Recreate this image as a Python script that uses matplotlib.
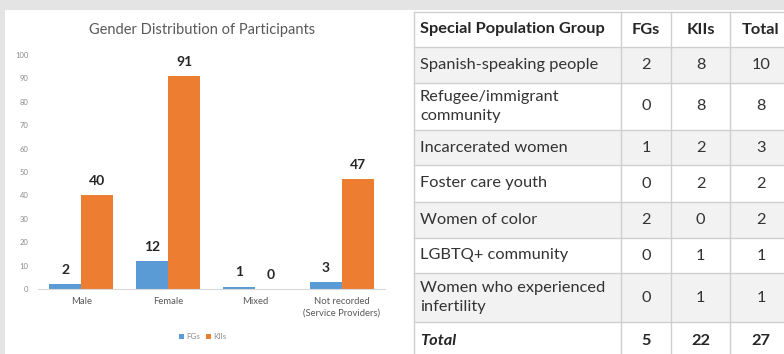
import matplotlib
matplotlib.use("Agg")
import matplotlib.pyplot as plt
from matplotlib.patches import Rectangle
import numpy as np

plt.rcParams['font.family'] = ['Lato', 'DejaVu Sans']

# chart data
categories = ['Male', 'Female', 'Mixed', 'Not recorded\n(Service Providers)']
fgs = [2, 12, 1, 3]
kiis = [40, 91, 0, 47]

# table data
tbl_header = ['Special Population Group', 'FGs', 'KIIs', 'Total']
tbl_groups = ['Spanish-speaking people', 'Refugee/immigrant\ncommunity',
              'Incarcerated women', 'Foster care youth', 'Women of color',
              'LGBTQ+ community', 'Women who experienced\ninfertility']
tbl_fgs = [2, 0, 1, 0, 2, 0, 0]
tbl_kiis = [8, 8, 2, 2, 0, 1, 1]
tbl_total = [10, 8, 3, 2, 2, 1, 1]

W, H = 784, 354
fig = plt.figure(figsize=(W / 100, H / 100), dpi=100)
fig.patch.set_facecolor('#e4e4e4')

# pixel-space overlay for the white panel and the table
bg = fig.add_axes([0, 0, 1, 1], zorder=0)
bg.set_xlim(0, W)
bg.set_ylim(H, 0)
bg.axis('off')
bg.add_patch(Rectangle((5, 10), W - 5, H - 10, facecolor='white', edgecolor='none'))

blue = '#5b9bd5'
orange = '#ed7d31'
txt = '#595959'

ax = fig.add_axes([38 / W, (H - 289) / H, (385 - 38) / W, (289 - 55) / H], zorder=1)
ax.patch.set_alpha(0)
x = np.arange(len(categories))
w = 0.37
b1 = ax.bar(x - w / 2, fgs, w, color=blue)
b2 = ax.bar(x + w / 2, kiis, w, color=orange)
for bars, vals in ((b1, fgs), (b2, kiis)):
    for r, v in zip(bars, vals):
        ax.text(r.get_x() + r.get_width() / 2, v + 3.5, str(v), ha='center', va='bottom',
                fontsize=10, fontweight='bold', color='#262626')
ax.set_xlim(-0.5, 3.5)
ax.set_ylim(0, 100)
ax.set_yticks(range(0, 101, 10))
ax.set_xticks(x)
ax.set_xticklabels(categories, fontsize=6.8, color=txt, linespacing=1.35)
ax.tick_params(axis='y', labelsize=5.5, colors='#8c8c8c', length=0, pad=7)
ax.tick_params(axis='x', length=0, pad=6)
for s in ('top', 'right', 'left'):
    ax.spines[s].set_visible(False)
ax.spines['bottom'].set_color('#d9d9d9')
ax.set_title('Gender Distribution of Participants', fontsize=10.5, color=txt,
             pad=15, x=0.472)
ax.legend([b1, b2], ['FGs', 'KIIs'], loc='center', bbox_to_anchor=(0.475, -0.205),
          ncol=2, frameon=False, fontsize=5.8, labelcolor='#8c8c8c',
          handlelength=0.6, handleheight=0.6, handletextpad=0.3, columnspacing=0.8)

# table
col_x = [414, 621, 671, 730, 812]
row_y = [12, 47, 83, 130, 165, 202, 238, 273, 322, 360]
line = '#cfcfcf'
rows = [tbl_header] + [[g, str(a), str(b), str(c)] for g, a, b, c in
                       zip(tbl_groups, tbl_fgs, tbl_kiis, tbl_total)]
rows.append(['Total', str(sum(tbl_fgs)), str(sum(tbl_kiis)), str(sum(tbl_total))])
for i, row in enumerate(rows):
    y0, y1 = row_y[i], row_y[i + 1]
    shade = '#f2f2f2' if i % 2 == 1 and i < len(rows) - 1 else 'white'
    bg.add_patch(Rectangle((col_x[0], y0), col_x[-1] - col_x[0], y1 - y0,
                           facecolor=shade, edgecolor='none'))
    bg.plot([col_x[0], col_x[-1]], [y0, y0], color=line, lw=1)
    bold = i == 0 or i == len(rows) - 1
    for j, cell in enumerate(row):
        ym = (y0 + y1) / 2
        if j == 0:
            style = 'italic' if i == len(rows) - 1 else 'normal'
            bg.text(col_x[0] + 6, ym, cell, ha='left', va='center', fontsize=11.8,
                    color='#262626' if bold else '#333333',
                    fontweight='bold' if bold else 'normal', fontstyle=style,
                    linespacing=1.45)
        else:
            cx = (col_x[j] + col_x[j + 1]) / 2 if j < 3 else 761
            bg.text(cx, ym, cell, ha='center', va='center', fontsize=11.8,
                    color='#262626' if bold else '#333333',
                    fontweight='bold' if bold else 'normal')
for cx in col_x[:-1]:
    bg.plot([cx, cx], [row_y[0], row_y[-1]], color=line, lw=1)

fig.savefig('out.png', dpi=100, facecolor=fig.get_facecolor())
